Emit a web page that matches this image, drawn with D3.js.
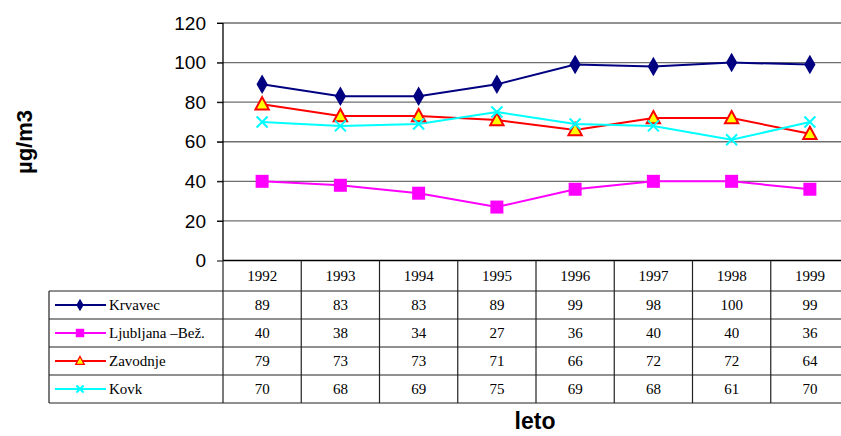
<!DOCTYPE html>
<html>
<head>
<meta charset="utf-8">
<script src="https://cdn.jsdelivr.net/npm/d3@7"></script>
<style>
  body { margin:0; background:#fff; }
  svg { display:block; }
</style>
</head>
<body>
<div id="container"></div>
<script>
// data
var years = ['1992','1993','1994','1995','1996','1997','1998','1999'];
var krvavec = [89, 83, 83, 89, 99, 98, 100, 99];
var ljubljana = [40, 38, 34, 27, 36, 40, 40, 36];
var zavodnje = [79, 73, 73, 71, 66, 72, 72, 64];
var kovk = [70, 68, 69, 75, 69, 68, 61, 70];
var seriesNames = ['Krvavec', 'Ljubljana \u2013Bež.', 'Zavodnje', 'Kovk'];
var yTicks = [0, 20, 40, 60, 80, 100, 120];

var SERIF = '"Liberation Serif", "Times New Roman", serif';
var SANS = '"Liberation Sans", Arial, sans-serif';

var vis = {
	w:841,
	h:436,
	series:[
		{ name:seriesNames[0], values:krvavec, color:'#000080', marker:'diamond' },
		{ name:seriesNames[1], values:ljubljana, color:'#FF00FF', marker:'square' },
		{ name:seriesNames[2], values:zavodnje, color:'#FF0000', marker:'triangle' },
		{ name:seriesNames[3], values:kovk, color:'#00FFFF', marker:'cross' }
	],

	marker:function(g, type, color, s){
		// s = scale factor, 1 for plot, smaller for legend
		if(type==='diamond'){
			g.append('path').attr('d', d3.symbol(d3.symbolDiamond, 110*s*s)())
				.attr('fill', color);
		} else if(type==='square'){
			g.append('rect').attr('x', -6.5*s).attr('y', -6.5*s)
				.attr('width', 13*s).attr('height', 13*s).attr('fill', color);
		} else if(type==='triangle'){
			var r = 7*s;
			g.append('path').attr('d', 'M0,' + (-r) + 'L' + (r*0.95) + ',' + (r*0.75) + 'L' + (-r*0.95) + ',' + (r*0.75) + 'Z')
				.attr('fill', '#FFFF00').attr('stroke', color).attr('stroke-width', 2*s);
		} else {
			var c = 5.5*s;
			g.append('path').attr('d', 'M' + (-c) + ',' + (-c) + 'L' + c + ',' + c + 'M' + (-c) + ',' + c + 'L' + c + ',' + (-c))
				.attr('stroke', color).attr('stroke-width', 2);
		}
	},

	generate:function(){
		var self = vis;

		var left = 223, right = 849, top = 23, zero = 260.5;
		var legendLeft = 49;
		var headerH = 30.5, rowH = 28;

		var svg = d3.select('#container').append('svg')
			.attr('width', self.w).attr('height', self.h);

		var x = d3.scaleBand().domain(years).range([left, right]);
		var y = d3.scaleLinear().domain([0, 120]).range([zero, top]);

		// gridlines
		svg.append('g').selectAll('line').data(yTicks.filter(function(d){ return d>0; }))
			.enter().append('line')
			.attr('x1', left - 6).attr('x2', right)
			.attr('y1', function(d){ return y(d); }).attr('y2', function(d){ return y(d); })
			.attr('stroke', '#6e6e6e').attr('stroke-width', 1.3);

		// y axis
		var yAxis = d3.axisLeft(y).tickValues(yTicks).tickSize(6).tickPadding(11);
		var ga = svg.append('g').attr('transform', 'translate(' + left + ',0)').call(yAxis);
		ga.select('.domain').remove();
		ga.selectAll('.tick line').attr('stroke', '#000');
		ga.selectAll('.tick text')
			.style('font-family', SANS).style('font-size', '19px').attr('fill', '#000');
		svg.append('line').attr('x1', left).attr('x2', left)
			.attr('y1', top).attr('y2', zero).attr('stroke', '#000').attr('stroke-width', 1.3);

		// lines + markers
		var line = d3.line()
			.x(function(d, i){ return x(years[i]) + x.bandwidth()/2; })
			.y(function(d){ return y(d); });

		self.series.forEach(function(s){
			svg.append('path').datum(s.values)
				.attr('d', line)
				.attr('fill', 'none')
				.attr('stroke', s.color)
				.attr('stroke-width', 2);
		});
		self.series.forEach(function(s){
			s.values.forEach(function(v, i){
				var g = svg.append('g')
					.attr('transform', 'translate(' + (x(years[i]) + x.bandwidth()/2) + ',' + y(v) + ')');
				self.marker(g, s.marker, s.color, 1);
			});
		});

		// data table
		var tbl = svg.append('g');
		var tableBottom = zero + headerH + rowH*self.series.length;
		var rowTop = function(i){ return zero + headerH + rowH*i; };
		var lineColor = '#222';

		// horizontal lines
		tbl.append('line').attr('x1', left).attr('x2', right).attr('y1', zero).attr('y2', zero)
			.attr('stroke', '#000').attr('stroke-width', 1.3);
		for(var i=0; i<=self.series.length; i++){
			tbl.append('line').attr('x1', legendLeft).attr('x2', right)
				.attr('y1', rowTop(i)).attr('y2', rowTop(i))
				.attr('stroke', lineColor).attr('stroke-width', 1.2);
		}
		// vertical lines
		tbl.append('line').attr('x1', legendLeft).attr('x2', legendLeft)
			.attr('y1', rowTop(0)).attr('y2', tableBottom).attr('stroke', lineColor).attr('stroke-width', 1.2);
		tbl.append('line').attr('x1', left).attr('x2', left)
			.attr('y1', zero).attr('y2', tableBottom).attr('stroke', lineColor).attr('stroke-width', 1.2);
		years.forEach(function(yr){
			var xx = x(yr) + x.bandwidth();
			tbl.append('line').attr('x1', xx).attr('x2', xx)
				.attr('y1', zero).attr('y2', tableBottom).attr('stroke', lineColor).attr('stroke-width', 1.2);
		});

		// header years
		tbl.selectAll('text.yr').data(years).enter().append('text')
			.attr('x', function(d){ return x(d) + x.bandwidth()/2; })
			.attr('y', zero + headerH/2 + 5)
			.attr('text-anchor', 'middle')
			.style('font-family', SERIF).style('font-size', '15px')
			.text(function(d){ return d; });

		// rows
		self.series.forEach(function(s, r){
			var cy = rowTop(r) + rowH/2;
			tbl.append('line').attr('x1', 55).attr('x2', 106).attr('y1', cy).attr('y2', cy)
				.attr('stroke', s.color).attr('stroke-width', 2);
			var g = tbl.append('g').attr('transform', 'translate(80,' + cy + ')');
			self.marker(g, s.marker, s.color, 0.65);
			tbl.append('text').attr('x', 109).attr('y', cy + 5)
				.style('font-family', SERIF).style('font-size', '15px')
				.text(s.name);
			tbl.selectAll(null).data(s.values).enter().append('text')
				.attr('x', function(d, i){ return x(years[i]) + x.bandwidth()/2; })
				.attr('y', cy + 5)
				.attr('text-anchor', 'middle')
				.style('font-family', SERIF).style('font-size', '15px')
				.text(function(d){ return d; });
		});

		// axis titles
		svg.append('text')
			.attr('transform', 'translate(32,142) rotate(-90)')
			.attr('text-anchor', 'middle')
			.style('font-family', SANS)
			.style('font-weight', 'bold').style('font-size', '22px')
			.text('µg/m3');
		svg.append('text')
			.attr('x', 535).attr('y', 429)
			.attr('text-anchor', 'middle')
			.style('font-family', SANS)
			.style('font-weight', 'bold').style('font-size', '23px')
			.text('leto');
	}
};

vis.generate();
</script>
</body>
</html>
